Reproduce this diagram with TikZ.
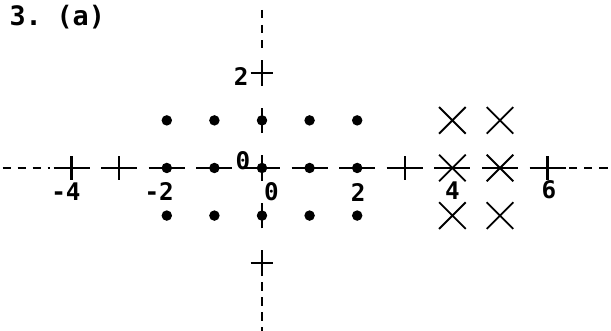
\documentclass[tikz,border=0pt]{standalone}
\usepackage{fontspec}
\setmainfont{DejaVu Sans Mono}
\usetikzlibrary{shapes.misc,positioning}
\tikzset{
  axseg/.style  = {line width=1.4pt},
  axdash/.style = {line width=1.3pt, dash pattern=on 5pt off 4pt},
  tk/.style     = {line width=1.4pt},
  dotpt/.style  = {circle, fill=black, inner sep=0pt, minimum size=2.2mm},
  xpt/.style    = {cross out, draw, line width=1.1pt, inner sep=0pt, minimum size=5.2mm},
  lbl/.style    = {font=\bfseries\fontsize{14.5}{14.5}\selectfont, inner sep=0pt},
  ttl/.style    = {font=\bfseries\fontsize{16}{16}\selectfont, inner sep=0pt},
}
\begin{document}
\begin{tikzpicture}
  \useasboundingbox (-5.504,-3.424) rectangle (7.332,3.529);
  \node[ttl, anchor=west] (title) at (-5.31,3.17) {3.\hspace{-0.25em} (a)};

  % axes
  \coordinate (xl) at (-5.45,0);
  \coordinate (xr) at (7.33,0);
  \coordinate (yt) at (0,3.32);
  \coordinate (yb) at (0,-3.43);
  \foreach \k in {-4,...,6}
    \draw[axseg] (\k-0.38,0) -- (\k+0.38,0);
  \foreach \k in {-2,...,2}
    \draw[axseg] (0,\k-0.27) -- (0,\k+0.27);
  \draw[axdash] (xl) -- (-4.45,0);
  \draw[axdash] (6.45,0) -- (xr);
  \draw[axdash] (yt) -- (0,2.4);
  \draw[axdash] (0,-2.4) -- (yb);

  % ticks
  \foreach \k in {-4,-3,3,6}
    \draw[tk] (\k,-0.25) -- (\k,0.25);
  \foreach \k in {-2,2}
    \draw[tk] (-0.24,\k) -- (0.24,\k);

  % points
  \foreach \i in {-2,...,2}
    \foreach \j in {-1,0,1}
      \node[dotpt] (d\i\j) at (\i,\j) {};
  \foreach \i in {4,5}
    \foreach \j in {-1,0,1}
      \node[xpt] (x\i\j) at (\i,\j) {};

  % labels
  \node[lbl] (lm4) at (-4.12,-0.5) {-4};
  \node[lbl] (lm2) at (-2.16,-0.5) {-2};
  \node[lbl] (lx0) at (0.2,-0.5) {0};
  \node[lbl] (lx2) at (2.02,-0.52) {2};
  \node[lbl] (lx4) at (4.0,-0.48) {4};
  \node[lbl] (lx6) at (6.03,-0.45) {6};
  \node[lbl] (ly0) at (-0.4,0.16) {0};
  \node[lbl] (ly2) at (-0.44,1.93) {2};
\end{tikzpicture}
\end{document}
